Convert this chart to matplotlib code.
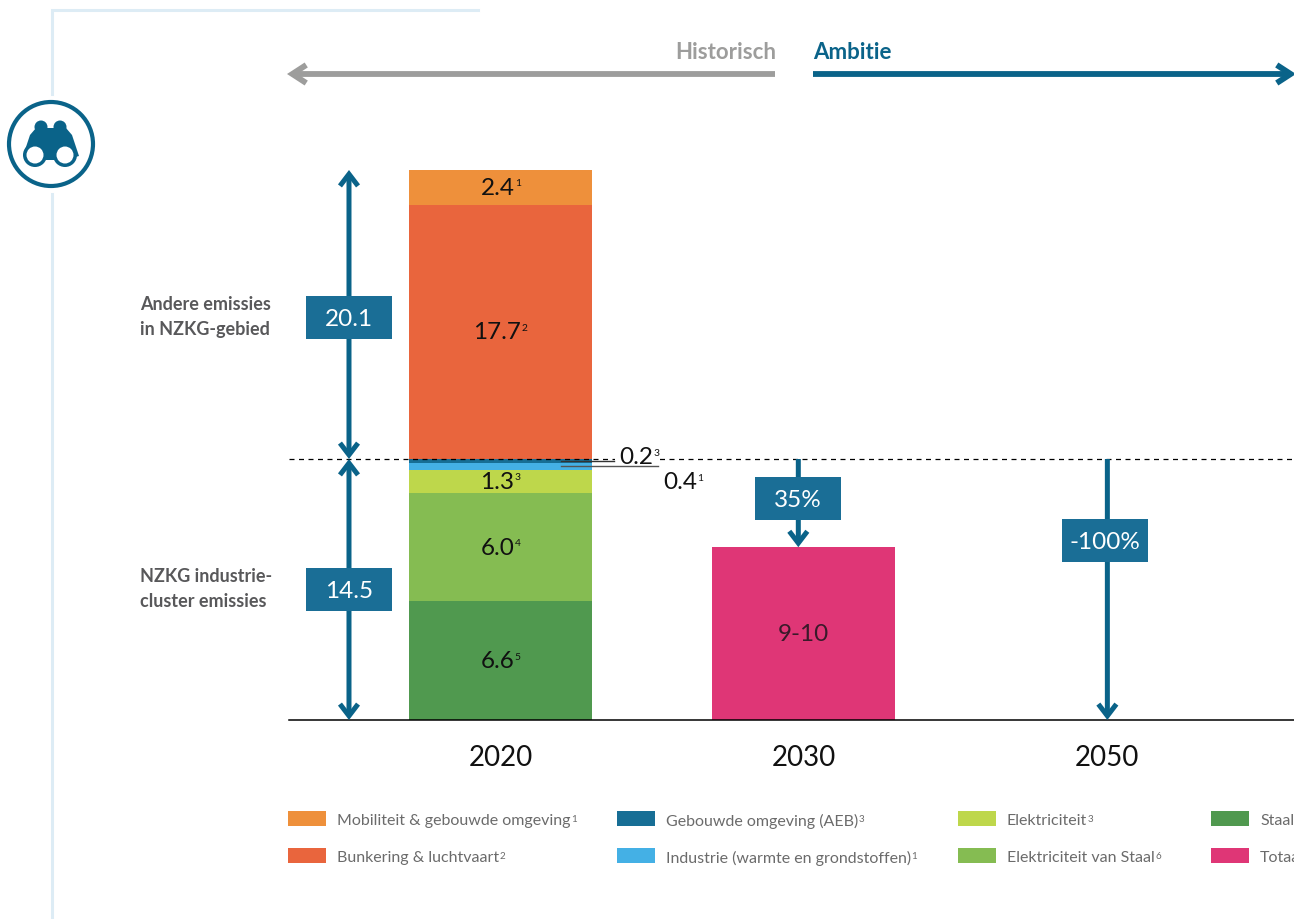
import numpy as np
import matplotlib
matplotlib.use("Agg")
import matplotlib.pyplot as plt
from matplotlib.patches import Circle, Polygon, Rectangle

# stacked segments of the 2020 bar, bottom to top
segments = ["Staal", "Elektriciteit van Staal", "Elektriciteit",
            "Industrie (warmte en grondstoffen)", "Gebouwde omgeving (AEB)",
            "Bunkering & luchtvaart", "Mobiliteit & gebouwde omgeving"]
values_2020 = [6.6, 6.0, 1.3, 0.4, 0.2, 17.7, 2.4]
notes_2020 = ["5", "6", "3", "1", "3", "2", "1"]
label_notes = ["5", "4", "3", "1", "3", "2", "1"]
colors = ["#50994F", "#85BC52", "#BED74B", "#44B0E5", "#176E95", "#E9653D", "#EE903B"]

years = ["2020", "2030", "2050"]
total_name = "Totaal"
total_color = "#DF3676"
total_2030 = 9.6
total_2030_label = "9-10"
cluster_total = 14.5
other_total = 20.1
reduction_2030 = "35%"
reduction_2050 = "-100%"

BLUE = "#0A6389"
BOX = "#1A6E96"
GREY = "#9D9D9C"
TEXT = "#58585A"
FRAME = "#DDECF5"
FONT = "Lato"

plt.rcParams["font.family"] = [FONT, "DejaVu Sans"]

W, H = 1294, 920
fig = plt.figure(figsize=(W / 100, H / 100), dpi=100)

# bar area: the upper block (above the dashed line) is drawn at a smaller scale
ax = fig.add_axes([289 / W, (H - 721) / H, (W - 289) / W, 550 / H])
top = cluster_total + other_total
ax.set_yscale("function", functions=(
    lambda v: np.interp(v, [0, cluster_total, top], [0, 261, 550]),
    lambda p: np.interp(p, [0, 261, 550], [0, cluster_total, top])))
ax.set_xlim(-0.698, 2.619)
ax.set_ylim(0, top)

bottoms = np.concatenate(([0], np.cumsum(values_2020)[:-1]))
ax.bar(0, values_2020, width=0.604, bottom=bottoms, color=colors, linewidth=0)
ax.bar(1, total_2030, width=0.604, color=total_color, linewidth=0)

for side in ["top", "left", "right"]:
    ax.spines[side].set_visible(False)
ax.spines["bottom"].set_linewidth(1.1)
ax.set_yticks([])
ax.yaxis.set_minor_locator(matplotlib.ticker.NullLocator())
ax.set_xticks(range(len(years)))
ax.set_xticklabels(years, fontsize=20, color="#111111")
ax.tick_params(axis="x", length=0, pad=17)

ax.axhline(cluster_total, color="black", lw=0.9, ls=(0, (4, 3.6)), zorder=3)


def noted(axis, x, y, txt, note, size, note_scale=0.42, color="#111111", **kw):
    # text with a small footnote number at its top right corner
    t = axis.text(x, y, txt, fontsize=size, color=color, va="center", **kw)
    axis.annotate(note, xy=(1, 0.93), xycoords=t, xytext=(0.3, 0), textcoords="offset points",
                  fontsize=size * note_scale, color=color, va="top", ha="left", zorder=kw.get("zorder", 3))
    return t


def arrow(axis, start, end, color=BLUE, style="->", lw=3.6, length=8.5, width=6.5):
    axis.annotate("", xy=end, xytext=start, zorder=4, annotation_clip=False,
                  arrowprops=dict(arrowstyle=f"{style},head_length={length},head_width={width}",
                                  mutation_scale=1, color=color, lw=lw, shrinkA=0, shrinkB=0,
                                  capstyle="butt", joinstyle="miter"))


# value labels inside the 2020 bar, the two thin ones sit beside it
for v, b, n in zip(values_2020, bottoms, label_notes):
    if v < 1:
        continue
    noted(ax, -0.01, b + v / 2, f"{v:.1f}", n, 17.5, ha="center")

ax.text(1, total_2030 / 2, total_2030_label, fontsize=17.5, color="#3A1A2A", ha="center", va="center")

arrow(ax, (-0.5, cluster_total), (-0.5, top), style="<->")
arrow(ax, (-0.5, 0), (-0.5, cluster_total), style="<->")
arrow(ax, (0.983, cluster_total), (0.983, total_2030))
arrow(ax, (2.003, cluster_total), (2.003, 0))

# everything outside the bar area lives in pixel coordinates
ov = fig.add_axes([0, 0, 1, 1], facecolor="none")
ov.set_xlim(0, W)
ov.set_ylim(H - 1, -1)
ov.axis("off")

# page frame
ov.plot([478, 52, 52], [10, 10, 94], color=FRAME, lw=2.2, solid_joinstyle="miter")
ov.plot([52, 52], [194, 920], color=FRAME, lw=2.2)

# binoculars badge
ov.add_patch(Circle((51, 144), 42, fc="white", ec=BLUE, lw=3))
ov.add_patch(Polygon([(23, 156), (30, 135), (36, 128), (66, 128), (72, 135), (79, 156), (65, 160), (37, 160)],
                     fc=BLUE, ec="none"))
for cx in [41, 60]:
    ov.add_patch(Circle((cx, 127), 6.5, fc=BLUE, ec="none"))
for cx in [35, 65]:
    ov.add_patch(Circle((cx, 155), 12, fc=BLUE, ec="none"))
    ov.add_patch(Circle((cx, 155), 8.5, fc="white", ec="none"))

# period arrows
arrow(ov, (775, 74), (287, 74), color=GREY, lw=4.2, length=10, width=6.5)
arrow(ov, (813, 74), (1296, 74), color=BLUE, lw=4.2, length=10, width=6.5)
ov.text(776, 52, "Historisch", fontsize=16, fontweight="bold", color=GREY, ha="right", va="center")
ov.text(813, 52, "Ambitie", fontsize=16, fontweight="bold", color=BLUE, ha="left", va="center")

# group captions
ov.text(140, 316, "Andere emissies\nin NZKG-gebied", fontsize=13, fontweight="bold", color=TEXT,
        va="center", linespacing=1.55)
ov.text(140, 588, "NZKG industrie-\ncluster emissies", fontsize=13, fontweight="bold", color=TEXT,
        va="center", linespacing=1.55)

# value boxes on the arrows
box_labels = [f"{other_total:.1f}", f"{cluster_total:.1f}", reduction_2030, reduction_2050]
box_x = [349, 349, 798, 1105]
box_y = [317.5, 589.5, 498.5, 540.5]
for txt, bx, by in zip(box_labels, box_x, box_y):
    ov.add_patch(Rectangle((bx - 43, by - 21.5), 86, 43, fc=BOX, ec="none", zorder=5))
    ov.text(bx, by + 1.5, txt, fontsize=17.5, color="white", ha="center", va="center", zorder=6)

# labels for the thin segments, with leader lines from the middle of each segment
t = noted(ov, 619, 457, f"{values_2020[4]:.1f}", label_notes[4], 17.5, ha="left", zorder=6)
t.set_bbox(dict(fc="white", ec="none", pad=3))
noted(ov, 663, 482, f"{values_2020[3]:.1f}", label_notes[3], 17.5, ha="left", zorder=6)

mid_ind = bottoms[3] + values_2020[3] / 2
mid_geb = bottoms[4] + values_2020[4] / 2
ov.plot([0.2, 0.375], [mid_geb, mid_geb], color="#333333", lw=1, zorder=7, transform=ax.transData)
ov.plot([0.2, 0.52], [mid_ind, mid_ind], color="#555555", lw=1, zorder=7, transform=ax.transData)

# legend, two rows per column, running off the right edge
legend_names = [segments[6], segments[5], segments[4], segments[3], segments[2], segments[1], segments[0], total_name]
legend_colors = [colors[6], colors[5], colors[4], colors[3], colors[2], colors[1], colors[0], total_color]
legend_notes = [notes_2020[6], notes_2020[5], notes_2020[4], notes_2020[3], notes_2020[2], notes_2020[1], "", ""]
col_x = [288, 617, 958, 1211]
for i, (name, c, n) in enumerate(zip(legend_names, legend_colors, legend_notes)):
    lx = col_x[i // 2]
    ly = 819 if i % 2 == 0 else 856
    ov.add_patch(Rectangle((lx, ly - 8), 38, 15, fc=c, ec="none"))
    noted(ov, lx + 49, ly + 1, name, n, 11.5, note_scale=0.62, color="#6B6B6B", ha="left")

fig.savefig("out.png", dpi=100)
